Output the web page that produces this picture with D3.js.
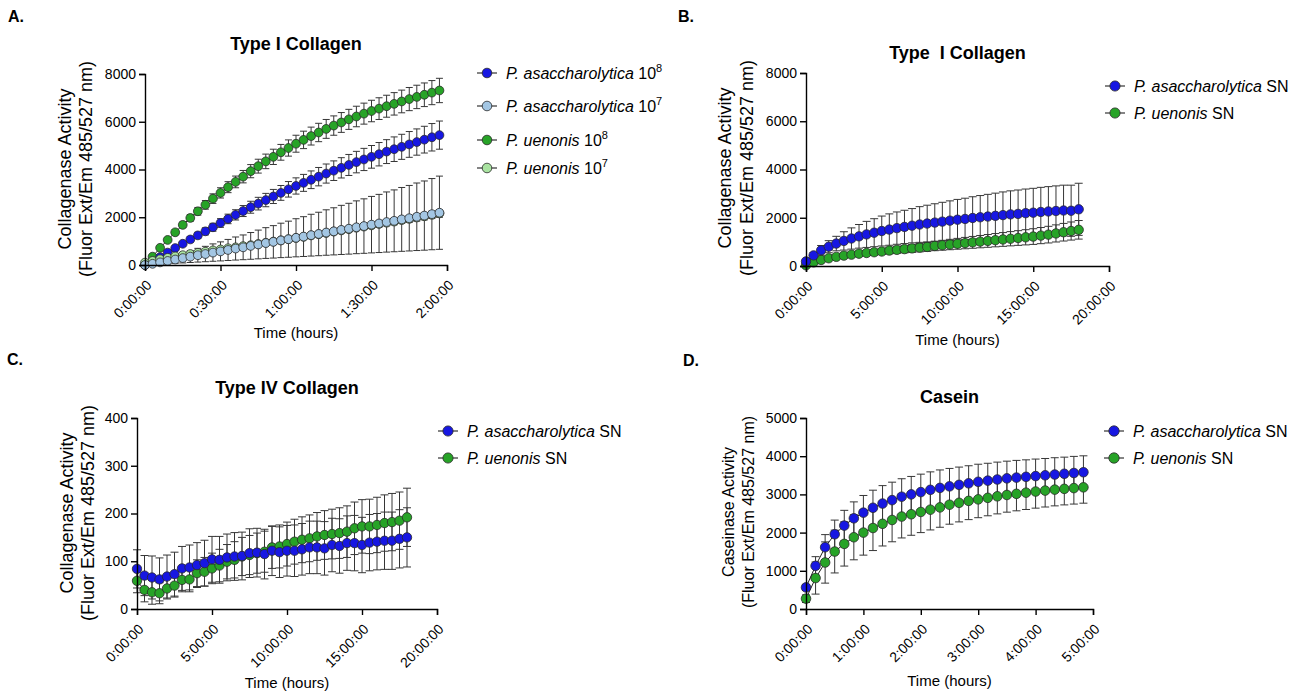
<!DOCTYPE html>
<html><head><meta charset="utf-8">
<script src="https://cdn.jsdelivr.net/npm/d3@7"></script>
<style>
body{margin:0;background:#fff}
svg{display:block}
text{font-family:"Liberation Sans",Arial,Helvetica,sans-serif;fill:#000}
</style>
</head><body>
<svg id="c" width="1304" height="696"></svg>
<script>
// ---------- DATA ----------
// Panel A: Type I collagen, time in minutes
const timeA = [0,3,6,9,12,15,18,21,24,27,30,33,36,39,42,45,48,51,54,57,60,63,66,69,72,75,78,81,84,87,90,93,96,99,102,105,108,111,114,117];
const pa8A = [0,150,330,520,710,890,1070,1240,1410,1580,1760,1930,2100,2260,2420,2570,2720,2870,3020,3170,3310,3440,3570,3700,3830,3950,4070,4190,4310,4420,4530,4640,4750,4850,4950,5050,5150,5250,5350,5440];
const pa8A_sd = [0,20,35,55,75,95,110,130,150,165,180,200,215,230,250,265,280,295,310,325,340,355,370,385,400,410,425,440,450,465,475,490,500,515,525,540,550,560,575,590];
const pa7A = [0,50,110,170,230,290,350,410,460,520,570,630,690,740,800,860,920,970,1030,1080,1140,1190,1250,1300,1360,1410,1470,1520,1580,1630,1690,1740,1800,1850,1910,1960,2020,2070,2130,2190];
const pa7A_sd = [0,35,77,119,161,203,245,287,322,364,399,441,483,518,560,602,644,679,721,756,798,833,875,910,952,987,1029,1064,1106,1141,1183,1218,1260,1295,1337,1372,1414,1449,1491,1533];
const pu8A = [0,350,720,1050,1370,1680,1970,2250,2520,2780,3020,3260,3480,3700,3930,4140,4340,4530,4720,4900,5080,5240,5400,5550,5700,5840,5970,6100,6220,6340,6450,6550,6650,6750,6850,6950,7040,7130,7220,7310];
const pu8A_sd = [0,30,55,80,100,120,140,160,180,200,215,230,245,260,275,290,305,320,330,340,355,365,375,385,395,405,415,420,430,440,450,455,460,470,475,485,490,495,505,510];
const pu7A = [100,170,240,300,360,410,460,510,560,610,650,700,740,790,830,880,930,980,1030,1080,1130,1180,1240,1290,1340,1400,1450,1500,1560,1610,1660,1720,1770,1820,1880,1930,1990,2040,2100,2160];
const pu7A_sd = [10,15,20,25,30,35,40,40,45,50,50,55,60,60,65,70,70,75,80,80,85,90,90,95,100,105,110,110,115,120,125,130,130,135,140,145,150,150,155,160];

// Panels B and C: time in hours
const timeBC = [0,0.5,1,1.5,2,2.5,3,3.5,4,4.5,5,5.5,6,6.5,7,7.5,8,8.5,9,9.5,10,10.5,11,11.5,12,12.5,13,13.5,14,14.5,15,15.5,16,16.5,17,17.5,18];
const paB = [190,440,650,800,930,1040,1140,1230,1310,1380,1450,1510,1570,1620,1670,1720,1760,1800,1840,1880,1920,1950,1990,2020,2050,2080,2110,2140,2160,2190,2210,2240,2260,2280,2300,2290,2350];
const paB_sd = [40,120,200,250,300,380,440,490,540,580,620,650,670,690,710,740,760,780,800,820,840,860,880,900,920,940,960,975,990,1000,1010,1020,1030,1040,1050,1060,1080];
const puB = [30,150,250,320,380,430,470,510,540,570,600,640,670,700,730,760,790,830,860,890,920,950,980,1010,1040,1070,1100,1130,1160,1190,1220,1260,1300,1350,1400,1450,1500];
const puB_sd = [10,30,45,55,65,75,85,95,105,115,125,135,145,155,165,175,185,195,205,215,225,235,245,255,265,275,285,295,305,315,325,335,345,355,365,375,385];

const paC = [84,70,66,62,68,73,85,87,92,96,104,103,108,110,111,117,118,115,122,119,122,122,125,129,129,127,134,132,138,138,134,139,141,143,143,147,150];
const paC_sd = [40,42,45,45,45,46,46,47,47,48,48,49,49,50,50,51,51,52,52,53,53,54,54,55,55,56,56,57,57,58,58,59,59,60,60,61,62];
const puC = [59,40,35,33,43,49,61,62,75,78,85,91,99,103,110,113,117,120,129,131,136,141,145,148,152,155,157,159,162,169,173,173,176,180,182,185,192];
const puC_sd = [25,25,25,22,22,24,25,26,28,30,32,34,36,38,40,41,42,43,44,45,46,47,48,49,50,51,52,53,54,55,56,57,58,59,60,60,61];

// Panel D: Casein, time in minutes
const timeD = [0,10,20,30,40,50,60,70,80,90,100,110,120,130,140,150,160,170,180,190,200,210,220,230,240,250,260,270,280,290];
const paD = [565,1130,1617,1957,2183,2374,2522,2650,2760,2850,2940,3000,3060,3120,3170,3210,3250,3290,3330,3360,3390,3420,3440,3460,3480,3500,3520,3540,3560,3580];
const paD_sd = [80,240,330,370,400,430,450,460,470,470,470,470,470,470,470,470,465,460,460,455,455,450,450,445,445,440,440,435,435,430];
const puD = [270,810,1217,1504,1704,1878,2000,2120,2230,2330,2420,2480,2540,2600,2660,2730,2780,2830,2870,2910,2950,2985,3015,3045,3075,3100,3125,3145,3165,3185];
const puD_sd = [100,420,540,560,580,590,590,590,580,570,560,550,540,530,520,510,500,490,480,470,460,450,445,440,435,430,425,420,418,415];

// Tick labels
const yTicksA = [0,2000,4000,6000,8000];
const xTicksA = [0,30,60,90,120];
const xLabelsA = ["0:00:00","0:30:00","1:00:00","1:30:00","2:00:00"];
const xTicksBC = [0,5,10,15,20];
const xLabelsBC = ["0:00:00","5:00:00","10:00:00","15:00:00","20:00:00"];
const yTicksC = [0,100,200,300,400];
const yTicksD = [0,1000,2000,3000,4000,5000];
const xTicksD = [0,60,120,180,240,300];
const xLabelsD = ["0:00:00","1:00:00","2:00:00","3:00:00","4:00:00","5:00:00"];

const seriesNamesA = ["P. asaccharolytica","P. asaccharolytica","P. uenonis","P. uenonis"];
const seriesSuffixA = [" 10"," 10"," 10"," 10"];
const seriesSupA = ["8","7","8","7"];
const seriesNamesSN = ["P. asaccharolytica","P. uenonis"];

// ---------- STYLE ----------
const BLUE = "#1717e2", LBLUE = "#a3c6e3", GREEN = "#27a327", LGREEN = "#a9e3a1";
const svg = d3.select("#c");
const FONT = '"Liberation Sans",Arial,Helvetica,sans-serif';

function drawPanel(p) {
  const g = svg.append("g");
  const x = d3.scaleLinear().domain(p.xDomain).range([p.px0, p.px1]);
  const y = d3.scaleLinear().domain(p.yDomain).range([p.py0, p.py1]);

  // error bars
  p.series.forEach(s => {
    const eb = g.append("g").attr("stroke", "#363636").attr("stroke-width", 1).attr("fill", "none");
    s.t.forEach((t, i) => {
      const cx = x(t), hi = y(s.v[i] + s.sd[i]), lo = y(s.v[i] - s.sd[i]);
      if (s.sd[i] <= 0) return;
      eb.append("line").attr("x1", cx).attr("x2", cx).attr("y1", hi).attr("y2", lo);
      eb.append("line").attr("x1", cx - p.cap).attr("x2", cx + p.cap).attr("y1", hi).attr("y2", hi);
      eb.append("line").attr("x1", cx - p.cap).attr("x2", cx + p.cap).attr("y1", lo).attr("y2", lo);
    });
  });
  // lines + points
  p.series.forEach(s => {
    const pts = s.t.map((t, i) => [t, s.v[i]]);
    g.append("path").datum(pts)
      .attr("d", d3.line().x(d => x(d[0])).y(d => y(d[1])))
      .attr("fill", "none").attr("stroke", "#222").attr("stroke-width", 1);
    g.append("g").selectAll("circle").data(pts).join("circle")
      .attr("cx", d => x(d[0])).attr("cy", d => y(d[1])).attr("r", p.r)
      .attr("fill", s.color).attr("stroke", "#2a2a2a").attr("stroke-width", 0.8);
  });

  // axes
  const ya = g.append("g").attr("transform", `translate(${p.px0},0)`)
    .call(d3.axisLeft(y).tickValues(p.yTicks).tickSize(6).tickPadding(3).tickFormat(d3.format("d")));
  ya.selectAll("text").style("font-size", "14px").style("font-family", FONT);
  const xa = g.append("g").attr("transform", `translate(0,${p.py0})`)
    .call(d3.axisBottom(x).tickValues(p.xTicks).tickSize(6).tickFormat((d, i) => p.xLabels[i]));
  xa.selectAll("text").style("font-size", "14px").style("font-family", FONT)
    .attr("text-anchor", "end").attr("x", null).attr("y", null).attr("dy", null)
    .attr("transform", "translate(7,21) rotate(-45)");
  [ya, xa].forEach(a => {
    a.select(".domain").attr("stroke", "#000").attr("stroke-width", 1.4);
    a.selectAll(".tick line").attr("stroke", "#000").attr("stroke-width", 1.4);
  });

  // titles
  g.append("text").attr("x", (p.px0 + p.px1) / 2).attr("y", p.titleY).attr("text-anchor", "middle")
    .style("font-weight", "bold").style("font-size", "18px").style("white-space", "pre").text(p.title);
  g.append("text").attr("x", (p.px0 + p.px1) / 2).attr("y", p.xTitleY).attr("text-anchor", "middle")
    .style("font-size", "15px").text("Time (hours)");
  const yl = g.append("text").attr("transform", `translate(${p.ylX},${p.ylY}) rotate(-90)`)
    .attr("text-anchor", "middle").style("font-size", p.ylSize + "px");
  yl.append("tspan").attr("x", 0).attr("dy", 0).text(p.ylab1);
  yl.append("tspan").attr("x", 0).attr("dy", p.ylGap).text(p.ylab2);
  g.append("text").attr("x", p.letterX).attr("y", p.letterY).style("font-weight", "bold")
    .style("font-size", "16px").text(p.letter);

  // legend
  p.series.slice().sort((a, b) => a.li - b.li).forEach((s, k) => {
    const ly = p.legY[k];
    g.append("line").attr("x1", p.legX - 10).attr("x2", p.legX + 10).attr("y1", ly).attr("y2", ly)
      .attr("stroke", "#333").attr("stroke-width", 1.2);
    g.append("circle").attr("cx", p.legX).attr("cy", ly).attr("r", p.r + 0.4)
      .attr("fill", s.color).attr("stroke", "#2a2a2a").attr("stroke-width", 0.8);
    const tx = g.append("text").attr("x", p.legX + 19).attr("y", ly + 5.5).style("font-size", "16px");
    tx.append("tspan").style("font-style", "italic").text(s.name);
    tx.append("tspan").text(s.suffix);
    if (s.sup) tx.append("tspan").attr("dy", -7).style("font-size", "11px").text(s.sup);
  });
}

drawPanel({
  letter: "A.", letterX: 8, letterY: 22,
  px0: 145, px1: 447, py0: 265, py1: 74,
  xDomain: [0, 120], yDomain: [0, 8000], yTicks: yTicksA, xTicks: xTicksA, xLabels: xLabelsA,
  r: 4.4, cap: 3.5,
  title: "Type I Collagen", titleY: 50, xTitleY: 338,
  ylab1: "Collagenase Activity", ylab2: "(Fluor Ext/Em 485/527 nm)", ylX: 71, ylY: 169, ylSize: 18, ylGap: 21,
  legX: 487, legY: [73, 106, 140, 168],
  series: [
    {t: timeA, v: pu8A, sd: pu8A_sd, color: GREEN, name: seriesNamesA[2], suffix: seriesSuffixA[2], sup: seriesSupA[2], li: 2},
    {t: timeA, v: pa8A, sd: pa8A_sd, color: BLUE, name: seriesNamesA[0], suffix: seriesSuffixA[0], sup: seriesSupA[0], li: 0},
    {t: timeA, v: pu7A, sd: pu7A_sd, color: LGREEN, name: seriesNamesA[3], suffix: seriesSuffixA[3], sup: seriesSupA[3], li: 3},
    {t: timeA, v: pa7A, sd: pa7A_sd, color: LBLUE, name: seriesNamesA[1], suffix: seriesSuffixA[1], sup: seriesSupA[1], li: 1}
  ]
});

drawPanel({
  letter: "B.", letterX: 678, letterY: 22,
  px0: 806, px1: 1109, py0: 266, py1: 73,
  xDomain: [0, 20], yDomain: [0, 8000], yTicks: yTicksA, xTicks: xTicksBC, xLabels: xLabelsBC,
  r: 4.7, cap: 4,
  title: "Type  I Collagen", titleY: 59, xTitleY: 345,
  ylab1: "Collagenase Activity", ylab2: "(Fluor Ext/Em 485/527 nm)", ylX: 731, ylY: 168, ylSize: 18, ylGap: 22,
  legX: 1115, legY: [86, 113],
  series: [
    {t: timeBC, v: puB, sd: puB_sd, color: GREEN, name: seriesNamesSN[1], suffix: " SN", li: 1},
    {t: timeBC, v: paB, sd: paB_sd, color: BLUE, name: seriesNamesSN[0], suffix: " SN", li: 0}
  ]
});

drawPanel({
  letter: "C.", letterX: 7, letterY: 365,
  px0: 137, px1: 437, py0: 609, py1: 418,
  xDomain: [0, 20], yDomain: [0, 400], yTicks: yTicksC, xTicks: xTicksBC, xLabels: xLabelsBC,
  r: 4.7, cap: 4,
  title: "Type IV Collagen", titleY: 394, xTitleY: 688,
  ylab1: "Collagenase Activity", ylab2: "(Fluor Ext/Em 485/527 nm)", ylX: 73, ylY: 513, ylSize: 18, ylGap: 21,
  legX: 448, legY: [431, 458],
  series: [
    {t: timeBC, v: puC, sd: puC_sd, color: GREEN, name: seriesNamesSN[1], suffix: " SN", li: 1},
    {t: timeBC, v: paC, sd: paC_sd, color: BLUE, name: seriesNamesSN[0], suffix: " SN", li: 0}
  ]
});

drawPanel({
  letter: "D.", letterX: 683, letterY: 366,
  px0: 806, px1: 1093, py0: 609, py1: 418,
  xDomain: [0, 300], yDomain: [0, 5000], yTicks: yTicksD, xTicks: xTicksD, xLabels: xLabelsD,
  r: 4.8, cap: 4,
  title: "Casein", titleY: 403, xTitleY: 686,
  ylab1: "Caseinase Activity", ylab2: "(Fluor Ext/Em 485/527 nm)", ylX: 734, ylY: 512, ylSize: 16, ylGap: 20,
  legX: 1114, legY: [431, 458],
  series: [
    {t: timeD, v: puD, sd: puD_sd, color: GREEN, name: seriesNamesSN[1], suffix: " SN", li: 1},
    {t: timeD, v: paD, sd: paD_sd, color: BLUE, name: seriesNamesSN[0], suffix: " SN", li: 0}
  ]
});
</script>
</body></html>
